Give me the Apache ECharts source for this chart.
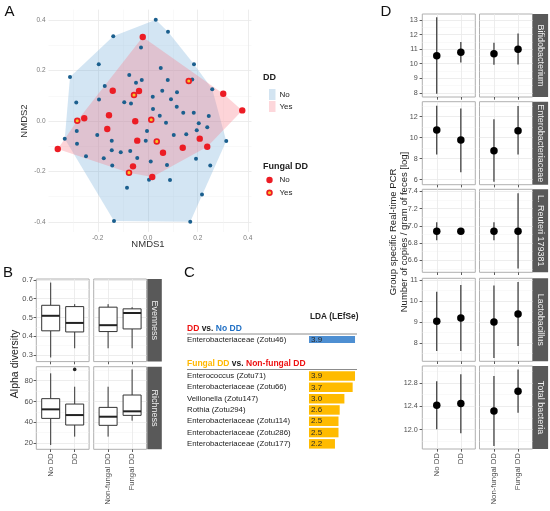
<!DOCTYPE html>
<html>
<head>
<meta charset="utf-8">
<title>DD microbiome panels</title>
<script src="https://cdn.jsdelivr.net/npm/echarts@6/dist/echarts.min.js"></script>
<style>
  html, body { margin: 0; padding: 0; background: #fff; }
  #main { width: 550px; height: 511px; }
</style>
</head>
<body>
<div id="main"></div>
<script>
// ---------- A: NMDS ordination (x = NMDS1, y = NMDS2) ----------
const ddNo = [
  [0.032, 0.402], [0.081, 0.354], [-0.138, 0.336], [-0.027, 0.292], [0.185, 0.225],
  [-0.196, 0.225], [0.052, 0.210], [-0.311, 0.175], [-0.074, 0.183], [-0.047, 0.152],
  [-0.024, 0.163], [0.080, 0.163], [0.178, 0.165], [-0.172, 0.139], [0.058, 0.120],
  [0.117, 0.114], [0.258, 0.126], [0.020, 0.096], [0.093, 0.086], [-0.195, 0.085],
  [-0.286, 0.073], [-0.094, 0.074], [-0.067, 0.069], [0.116, 0.057], [0.021, 0.048],
  [0.142, 0.033], [0.184, 0.033], [0.048, 0.021], [0.244, 0.020], [0.073, -0.007],
  [0.204, -0.009], [0.196, -0.037], [0.238, -0.025], [-0.284, -0.040], [-0.003, -0.040],
  [-0.332, -0.070], [-0.202, -0.056], [0.154, -0.053], [0.104, -0.056], [-0.144, -0.078],
  [-0.008, -0.078], [0.314, -0.079], [-0.283, -0.090], [-0.144, -0.116], [-0.108, -0.124],
  [-0.070, -0.119], [-0.247, -0.140], [-0.176, -0.148], [-0.042, -0.147], [0.012, -0.161],
  [0.193, -0.150], [-0.142, -0.177], [0.077, -0.175], [0.250, -0.177], [0.005, -0.233],
  [0.089, -0.234], [-0.083, -0.265], [0.217, -0.292], [-0.135, -0.397], [0.170, -0.400]
];
const ddYesFungalNo = [
  [-0.020, 0.333], [0.302, 0.108], [0.378, 0.042], [-0.140, 0.120], [-0.035, 0.119],
  [-0.155, 0.023], [-0.254, 0.011], [-0.050, -0.001], [-0.162, -0.032], [-0.360, -0.111],
  [-0.042, -0.078], [0.061, -0.126], [0.140, -0.106], [0.208, -0.070], [0.238, -0.102],
  [-0.059, -0.180], [0.018, -0.222]
];
const ddYesFungalYes = [
  [0.164, 0.159], [-0.055, 0.103], [-0.282, 0.001], [0.014, 0.005], [0.036, -0.081],
  [-0.075, -0.205]
];
const nmdsTicks = [-0.4, -0.2, 0, 0.2, 0.4];
const nmdsMinor = [-0.3, -0.1, 0.1, 0.3];

// ---------- B: alpha diversity, boxes as [min, Q1, median, Q3, max] ----------
const groupsDD = ['No DD', 'DD'];
const groupsFungal = ['Non-fungal DD', 'Fungal DD'];
const evennessDD = [[0.287, 0.429, 0.509, 0.565, 0.686], [0.336, 0.423, 0.471, 0.558, 0.571]];
const evennessFungal = [[0.336, 0.425, 0.459, 0.555, 0.571], [0.336, 0.439, 0.524, 0.546, 0.555]];
const richnessDD = [[18.0, 43.7, 52.4, 62.7, 87.1], [26.1, 37.3, 46.9, 57.5, 74.2]];
const richnessFungal = [[26.1, 37.0, 45.3, 54.3, 74.2], [41.5, 46.6, 50.5, 66.2, 90.9]];
const richnessDDOutliers = [[2, 90.9]];
const evennessTicks = [0.3, 0.4, 0.5, 0.6, 0.7];
const evennessMinor = [0.35, 0.45, 0.55, 0.65];
const richnessTicks = [20, 40, 60, 80];
const richnessMinor = [30, 50, 70, 90];

// ---------- C: LEfSe ----------
const ldaDDTaxa = ['Enterobacteriaceae (Zotu46)'];
const ldaDD = [3.9];
const ldaFungalTaxa = [
  'Enterococcus (Zotu71)', 'Enterobacteriaceae (Zotu66)', 'Veillonella (Zotu147)',
  'Rothia (Zotu294)', 'Enterobacteriaceae (Zotu114)', 'Enterobacteriaceae (Zotu286)',
  'Enterobacteriaceae (Zotu177)'
];
const ldaFungal = [3.9, 3.7, 3.0, 2.6, 2.5, 2.5, 2.2];

// ---------- D: real-time PCR, [mean, low, high] for No DD, DD, Non-fungal DD, Fungal DD ----------
const qpcrTargets = ['Bifidobacterium', 'Enterobacteriaceae', 'L. Reuteri 179381', 'Lactobacillus', 'Total bacteria'];
const bifido = [[10.55, 7.95, 13.18], [10.78, 10.09, 11.49], [10.68, 9.93, 11.44], [11.00, 9.95, 12.08]];
const entero = [[10.73, 8.41, 13.05], [9.78, 6.70, 12.79], [8.76, 5.81, 11.75], [10.67, 8.41, 13.02]];
const reuteri = [[6.938, 6.833, 7.040], [6.938, 6.930, 6.946], [6.938, 6.833, 7.040], [6.938, 6.504, 7.377]];
const lacto = [[9.03, 7.61, 10.44], [9.18, 7.61, 10.76], [9.00, 7.28, 10.74], [9.38, 7.85, 10.90]];
const totalBact = [[12.42, 12.01, 12.83], [12.45, 11.94, 12.95], [12.32, 11.72, 12.92], [12.66, 12.29, 13.03]];
const qpcrTicks = [[8, 9, 10, 11, 12, 13], [6, 8, 10, 12], [6.6, 6.8, 7.0, 7.2, 7.4], [8, 9, 10, 11], [12.0, 12.4, 12.8]];
const qpcrMinor = [[8.5, 9.5, 10.5, 11.5, 12.5], [7, 9, 11, 13], [6.5, 6.7, 6.9, 7.1, 7.3], [7.5, 8.5, 9.5, 10.5], [11.8, 12.2, 12.6, 13.0]];
const qpcrDecimals = [0, 0, 1, 0, 1];

// ---------- layout ----------
const FONT = '"Liberation Sans", Arial, sans-serif';
const grids = [], xAxes = [], yAxes = [], series = [], graphics = [];

function addGrid(left, top, width, height, border) {
  grids.push({
    left, top, width, height,
    show: !!border, borderColor: '#b0b0b0', borderWidth: 1, backgroundColor: 'transparent'
  });
  return grids.length - 1;
}

// main axis with major ticks/grid + hidden twin for the minor grid
function valueAxis(kind, gi, min, max, major, minor, o) {
  o = o || {};
  const arr = kind === 'x' ? xAxes : yAxes;
  arr.push({
    type: 'value', gridIndex: gi, min, max,
    axisLine: { show: false },
    axisTick: { show: o.ticks !== false, customValues: major, length: 2.7, lineStyle: { color: '#333', width: 0.8 } },
    axisLabel: {
      show: o.labels !== false, customValues: major, formatter: o.fmt || (v => String(v)),
      fontSize: o.fontSize || 7.5, color: o.color || '#4d4d4d', margin: o.margin || 3.5,
      rotate: o.rotate || 0, fontFamily: FONT
    },
    splitLine: { show: true, lineStyle: { color: '#e8e8e8', width: 0.8 } }
  });
  const idx = arr.length - 1;
  if (minor) {
    arr.push({
      type: 'value', gridIndex: gi, min, max,
      axisLine: { show: false },
      axisTick: { show: false, customValues: minor },
      axisLabel: { show: false },
      splitLine: { show: true, lineStyle: { color: '#f3f3f3', width: 0.5 } }
    });
  }
  return idx;
}

function text(x, y, str, font, fill, align, vAlign, rotation) {
  graphics.push({
    type: 'text', x, y, rotation: rotation || 0, silent: true,
    style: { text: str, font, fill: fill || '#222', align: align || 'left', textAlign: align || 'left',
      verticalAlign: vAlign || 'middle', textVerticalAlign: vAlign || 'middle' }
  });
}

function strip(x, y, w, h, label) {
  graphics.push({ type: 'rect', silent: true, shape: { x, y, width: w, height: h }, style: { fill: '#595959' } });
  text(x + w / 2, y + h / 2, label, '9px ' + FONT, '#f0f0f0', 'center', 'middle', -Math.PI / 2);
}

// ---------- A ----------
function hull(pts) {
  const p = pts.slice().sort((a, b) => a[0] - b[0] || a[1] - b[1]);
  const cross = (o, a, b) => (a[0] - o[0]) * (b[1] - o[1]) - (a[1] - o[1]) * (b[0] - o[0]);
  const lower = [], upper = [];
  for (const q of p) { while (lower.length >= 2 && cross(lower[lower.length - 2], lower[lower.length - 1], q) <= 0) lower.pop(); lower.push(q); }
  for (let i = p.length - 1; i >= 0; i--) { const q = p[i]; while (upper.length >= 2 && cross(upper[upper.length - 2], upper[upper.length - 1], q) <= 0) upper.pop(); upper.push(q); }
  return lower.slice(0, -1).concat(upper.slice(0, -1));
}

const gA = addGrid(48.5, 9.6, 203, 222.3, false);
const axA = { fmt: v => v.toFixed(1), ticks: false, fontSize: 6.5, color: '#7a7a7a', margin: 3 };
const xA = valueAxis('x', gA, -0.397, 0.415, nmdsTicks, nmdsMinor, axA);
const yA = valueAxis('y', gA, -0.44, 0.442, nmdsTicks, nmdsMinor, axA);

function hullSeries(pts, fill) {
  return {
    type: 'custom', xAxisIndex: xA, yAxisIndex: yA, silent: true, z: 1,
    data: [0],
    renderItem: (params, api) => ({
      type: 'polygon',
      shape: { points: hull(pts).map(q => api.coord(q)) },
      style: { fill }
    })
  };
}
series.push(hullSeries(ddNo, 'rgba(110,170,215,0.3)'));
series.push(hullSeries(ddYesFungalNo.concat(ddYesFungalYes), 'rgba(248,120,135,0.32)'));
series.push({ type: 'scatter', xAxisIndex: xA, yAxisIndex: yA, data: ddNo, symbolSize: 4, itemStyle: { color: '#1b5f8e', opacity: 1 }, z: 3, silent: true });
series.push({ type: 'scatter', xAxisIndex: xA, yAxisIndex: yA, data: ddYesFungalNo, symbolSize: 6.4, itemStyle: { color: '#ec1c24', opacity: 1 }, z: 4, silent: true });
series.push({ type: 'scatter', xAxisIndex: xA, yAxisIndex: yA, data: ddYesFungalYes, symbolSize: 4.8, itemStyle: { color: '#f7c325', borderColor: '#ec1c24', borderWidth: 1.7, opacity: 1 }, z: 4, silent: true });

text(148, 244.5, 'NMDS1', '9.5px ' + FONT, '#333', 'center');
text(24.5, 121, 'NMDS2', '9.5px ' + FONT, '#333', 'center', 'middle', Math.PI / 2);

// A legend
text(263, 78, 'DD', 'bold 9px ' + FONT, '#222');
graphics.push({ type: 'rect', silent: true, shape: { x: 269, y: 89, width: 6.5, height: 11 }, style: { fill: '#d3e4f1' } });
graphics.push({ type: 'rect', silent: true, shape: { x: 269, y: 101, width: 6.5, height: 11 }, style: { fill: '#fdd7db' } });
text(279.5, 94.5, 'No', '8px ' + FONT, '#222');
text(279.5, 106.8, 'Yes', '8px ' + FONT, '#222');
text(263, 167, 'Fungal DD', 'bold 9px ' + FONT, '#222');
graphics.push({ type: 'circle', silent: true, shape: { cx: 269.5, cy: 180, r: 3.2 }, style: { fill: '#ec1c24' } });
graphics.push({ type: 'circle', silent: true, shape: { cx: 269.5, cy: 192.7, r: 2.4 }, style: { fill: '#f7c325', stroke: '#ec1c24', lineWidth: 1.7 } });
text(279.5, 180, 'No', '8px ' + FONT, '#222');
text(279.5, 192.7, 'Yes', '8px ' + FONT, '#222');

// ---------- B ----------
function boxRender(params, api) {
  const x = api.value(0);
  const c = i => api.coord([x, api.value(i)]);
  const lo = c(1), q1 = c(2), md = c(3), q3 = c(4), hi = c(5);
  const half = api.size([0.75, 0])[0] / 2;
  const line = { stroke: '#333', lineWidth: 1 };
  return {
    type: 'group', children: [
      { type: 'line', shape: { x1: lo[0], y1: lo[1], x2: q1[0], y2: q1[1] }, style: line },
      { type: 'line', shape: { x1: q3[0], y1: q3[1], x2: hi[0], y2: hi[1] }, style: line },
      { type: 'rect', shape: { x: q1[0] - half, y: q3[1], width: half * 2, height: q1[1] - q3[1] }, style: { fill: '#fff', stroke: '#333', lineWidth: 1 } },
      { type: 'line', shape: { x1: md[0] - half, y1: md[1], x2: md[0] + half, y2: md[1] }, style: { stroke: '#222', lineWidth: 2 } }
    ]
  };
}

const bCols = [36.3, 93.7], bW = 52.8;
const bRows = [279, 366.7], bH = 82.6;
const bPanels = [
  [evennessDD, evennessFungal, evennessTicks, evennessMinor, [0.265, 0.705], v => v.toFixed(1)],
  [richnessDD, richnessFungal, richnessTicks, richnessMinor, [13.9, 93.5], v => String(v)]
];
bPanels.forEach((row, r) => {
  [0, 1].forEach(cIdx => {
    const gi = addGrid(bCols[cIdx], bRows[r], bW, bH, true);
    const names = cIdx === 0 ? groupsDD : groupsFungal;
    const xi = valueAxis('x', gi, 0.4, 2.6, [1, 2], null, {
      labels: r === 1, fmt: v => names[v - 1], rotate: 90, fontSize: 7.8, margin: 4
    });
    const yi = valueAxis('y', gi, row[4][0], row[4][1], row[2], row[3], { labels: cIdx === 0, ticks: cIdx === 0, fmt: row[5] });
    const boxes = row[cIdx];
    series.push({
      type: 'custom', xAxisIndex: xi, yAxisIndex: yi, silent: true, z: 3,
      data: boxes.map((b, i) => [i + 1].concat(b)),
      encode: { x: 0, y: [1, 2, 3, 4, 5] },
      renderItem: boxRender
    });
    if (r === 1 && cIdx === 0) {
      series.push({ type: 'scatter', xAxisIndex: xi, yAxisIndex: yi, data: richnessDDOutliers, symbolSize: 3.6, itemStyle: { color: '#222', opacity: 1 }, z: 4, silent: true });
    }
  });
  strip(147.3, bRows[r], 14.5, bH, r === 0 ? 'Evenness' : 'Richness');
});
text(14.7, 364, 'Alpha diversity', '10.5px ' + FONT, '#222', 'center', 'middle', Math.PI / 2);

// ---------- C ----------
const cFont = '"Liberation Sans", Arial, sans-serif';
function ldaGrid(top, taxa, values, color, barWidth) {
  const gi = addGrid(309, top, 47.2, taxa.length * 11.3, false);
  xAxes.push({ type: 'value', gridIndex: gi, min: 0, max: 4, show: false });
  yAxes.push({
    type: 'category', gridIndex: gi, data: taxa, inverse: true,
    axisLine: { show: false }, axisTick: { show: false }, splitLine: { show: false },
    axisLabel: { align: 'left', margin: 122, fontSize: 7.8, color: '#222', fontFamily: cFont }
  });
  series.push({
    type: 'bar', xAxisIndex: xAxes.length - 1, yAxisIndex: yAxes.length - 1, data: values,
    barWidth, itemStyle: { color }, silent: true,
    label: { show: true, position: 'insideLeft', distance: 2, formatter: p => p.value.toFixed(1), fontSize: 8, color: '#2a2a2a', fontFamily: cFont }
  });
}
ldaGrid(333.8, ldaDDTaxa, ldaDD, '#4e8fd2', 7);
ldaGrid(370.4, ldaFungalTaxa, ldaFungal, '#ffbb00', 9.5);

text(310, 317, 'LDA (LEfSe)', 'bold 8.3px ' + cFont, '#222');
graphics.push({
  type: 'text', x: 187, y: 328.3, silent: true,
  style: {
    text: '{r|DD} {k|vs.} {b|No DD}', font: 'bold 8.5px ' + cFont, verticalAlign: 'middle', textVerticalAlign: 'middle',
    rich: {
      r: { fill: '#ee1111', font: 'bold 8.5px ' + cFont },
      k: { fill: '#222', font: 'bold 8.5px ' + cFont },
      b: { fill: '#1f6fc4', font: 'bold 8.5px ' + cFont }
    }
  }
});
graphics.push({
  type: 'text', x: 187, y: 364, silent: true,
  style: {
    text: '{y|Fungal DD} {k|vs.} {r|Non-fungal DD}', font: 'bold 8.5px ' + cFont, verticalAlign: 'middle', textVerticalAlign: 'middle',
    rich: {
      y: { fill: '#ffb800', font: 'bold 8.5px ' + cFont },
      k: { fill: '#222', font: 'bold 8.5px ' + cFont },
      r: { fill: '#ee1111', font: 'bold 8.5px ' + cFont }
    }
  }
});
graphics.push({ type: 'line', silent: true, shape: { x1: 187, y1: 334, x2: 357, y2: 334 }, style: { stroke: '#8c8c8c', lineWidth: 1 } });
graphics.push({ type: 'line', silent: true, shape: { x1: 187, y1: 369.5, x2: 357, y2: 369.5 }, style: { stroke: '#8c8c8c', lineWidth: 1 } });

// ---------- D ----------
const qpcrData = [bifido, entero, reuteri, lacto, totalBact];
const qpcrRange = [[7.72, 13.41], [5.52, 13.43], [6.461, 7.423], [7.12, 11.08], [11.67, 13.09]];
const dCols = [422.3, 479.5], dW = 53;
const dRows = [14, 101.7, 189.3, 278.3, 366], dH = 83;

function errRender(params, api) {
  const x = api.value(0);
  const a = api.coord([x, api.value(1)]), b = api.coord([x, api.value(2)]);
  return { type: 'line', shape: { x1: a[0], y1: a[1], x2: b[0], y2: b[1] }, style: { stroke: '#222', lineWidth: 1.1 } };
}

qpcrData.forEach((rows, r) => {
  [0, 1].forEach(cIdx => {
    const gi = addGrid(dCols[cIdx], dRows[r], dW, dH, true);
    const names = cIdx === 0 ? groupsDD : groupsFungal;
    const xi = valueAxis('x', gi, 0.4, 2.6, [1, 2], null, {
      labels: r === 4, fmt: v => names[v - 1], rotate: 90, fontSize: 7.8, margin: 4
    });
    const dec = qpcrDecimals[r];
    const yi = valueAxis('y', gi, qpcrRange[r][0], qpcrRange[r][1], qpcrTicks[r], qpcrMinor[r], {
      labels: cIdx === 0, ticks: cIdx === 0, fmt: v => v.toFixed(dec), fontSize: 7.2, margin: 4.5
    });
    const grp = rows.slice(cIdx * 2, cIdx * 2 + 2);
    series.push({
      type: 'custom', xAxisIndex: xi, yAxisIndex: yi, silent: true, z: 3,
      data: grp.map((g, i) => [i + 1, g[1], g[2]]),
      encode: { x: 0, y: [1, 2] },
      renderItem: errRender
    });
    series.push({
      type: 'scatter', xAxisIndex: xi, yAxisIndex: yi, silent: true, z: 4,
      data: grp.map((g, i) => [i + 1, g[0]]), symbolSize: 7.5, itemStyle: { color: '#000', opacity: 1 }
    });
  });
  strip(532.6, dRows[r], 15.5, dH, qpcrTargets[r]);
});
graphics.push({
  type: 'text', x: 398.5, y: 232, rotation: Math.PI / 2, silent: true,
  style: {
    text: 'Group specific Real-time PCR\nNumber of copies / gram of feces [log]',
    font: '9.5px ' + FONT, fill: '#222', align: 'center', textAlign: 'center',
    verticalAlign: 'middle', textVerticalAlign: 'middle', lineHeight: 11
  }
});

// panel letters
text(4.5, 12, 'A', '15px ' + FONT, '#111');
text(3, 273, 'B', '15px ' + FONT, '#111');
text(184, 273, 'C', '15px ' + FONT, '#111');
text(380.5, 11.5, 'D', '15px ' + FONT, '#111');

const chart = echarts.init(document.getElementById('main'), null, { renderer: 'canvas' });
chart.setOption({
  animation: false,
  backgroundColor: '#fff',
  textStyle: { fontFamily: FONT },
  grid: grids,
  xAxis: xAxes,
  yAxis: yAxes,
  series,
  graphic: { elements: graphics }
});
window.addEventListener('resize', () => chart.resize());
</script>
</body>
</html>
